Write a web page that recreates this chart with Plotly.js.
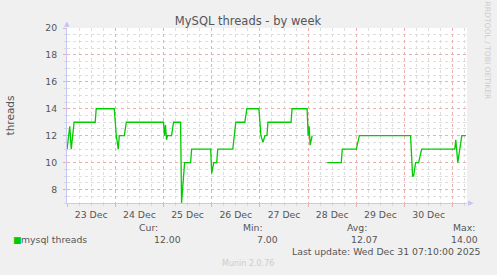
<!DOCTYPE html>
<html>
<head>
<meta charset="utf-8">
<script src="https://cdn.plot.ly/plotly-3.0.1.min.js"></script>
<style>html,body{margin:0;padding:0;background:#f0f0f0;}#chart{width:497px;height:275px;}</style>
</head>
<body>
<div id="chart"></div>
<script>
// ---- data ----
const times = [
  '2025-12-23 00:00','2025-12-23 01:20','2025-12-23 02:05','2025-12-23 03:30',
  '2025-12-23 14:00','2025-12-23 14:30','2025-12-23 23:30',
  '2025-12-24 00:30','2025-12-24 01:30','2025-12-24 02:00','2025-12-24 04:30','2025-12-24 05:30',
  '2025-12-25 00:00','2025-12-25 00:30','2025-12-25 01:00','2025-12-25 01:30','2025-12-25 02:00',
  '2025-12-25 04:00','2025-12-25 05:00','2025-12-25 08:30','2025-12-25 09:00','2025-12-25 10:30',
  '2025-12-25 13:30','2025-12-25 14:00','2025-12-25 23:30',
  '2025-12-26 00:00','2025-12-26 01:00','2025-12-26 02:30','2025-12-26 03:00','2025-12-26 10:30',
  '2025-12-26 12:00','2025-12-26 16:30','2025-12-26 17:30','2025-12-26 23:30',
  '2025-12-27 00:30','2025-12-27 01:30','2025-12-27 02:30','2025-12-27 03:30','2025-12-27 04:00',
  '2025-12-27 15:30','2025-12-27 16:00','2025-12-27 23:30',
  '2025-12-28 00:00','2025-12-28 00:30','2025-12-28 01:00','2025-12-28 02:00','2025-12-28 05:00',
  '2025-12-28 09:30','2025-12-28 16:30','2025-12-28 17:00',
  '2025-12-29 00:00','2025-12-29 01:30',
  '2025-12-30 03:00','2025-12-30 04:00','2025-12-30 04:30','2025-12-30 05:30','2025-12-30 07:00','2025-12-30 08:30',
  '2025-12-31 01:00','2025-12-31 01:30','2025-12-31 02:30','2025-12-31 04:30','2025-12-31 06:30'
];
const threads = [
  11, 12.7, 11, 13,
  13, 14, 14,
  12, 11, 12, 12, 13,
  13, 12, 12.8, 11.7, 12,
  12, 13, 13, 7, 10,
  10, 11, 11,
  9.2, 10, 10, 11, 11,
  13, 13, 14, 14,
  12, 11.5, 12, 12, 13,
  13, 14, 14,
  12, 12.7, 11.3, 12, null,
  10, 10, 11,
  11, 12,
  12, 9, 9, 10, 10, 11,
  11, 11.7, 10, 12, 12
];
const dayTickFormat = '%-d %b';
const seriesName = 'mysql threads';
const statLabels = ['Cur:', 'Min:', 'Avg:', 'Max:'];
const statValues = ['12.00', '7.00', '12.07', '14.00'];
const lastUpdate = 'Last update: Wed Dec 31 07:10:00 2025';
const chartTitle = 'MySQL threads - by week';
const yTitle = 'threads';

// ---- layout helpers (pixel -> paper) ----
const PL = 67, PR = 467, PT = 28, PB = 203;
const px = x => (x - PL) / (PR - PL);
const py = y => (PB - y) / (PB - PT);
const FONT = 'DejaVu Sans, sans-serif';
const TXT = '#555555';

const statLabelX = [160, 265, 369, 477];
const statValueX = [183, 280, 379.5, 479.5];

const annotations = [];
statLabels.forEach((s, i) => {
  annotations.push({xref:'paper', yref:'paper', x:px(statLabelX[i]), y:py(227), xanchor:'right', yanchor:'middle',
    text:s, showarrow:false, font:{family:FONT, size:9.3, color:TXT}});
  annotations.push({xref:'paper', yref:'paper', x:px(statValueX[i]), y:py(239.5), xanchor:'right', yanchor:'middle',
    text:statValues[i], showarrow:false, font:{family:FONT, size:9.3, color:TXT}});
});
annotations.push({xref:'paper', yref:'paper', x:px(10.5), y:py(239.5), xanchor:'left', yanchor:'middle',
  text:'■', showarrow:false, font:{family:FONT, size:9, color:'#00cc00'}});
annotations.push({xref:'paper', yref:'paper', x:px(18.5), y:py(239.5), xanchor:'left', yanchor:'middle',
  text:seriesName, showarrow:false, font:{family:FONT, size:9.3, color:TXT}});
annotations.push({xref:'paper', yref:'paper', x:px(482.5), y:py(251), xanchor:'right', yanchor:'middle',
  text:lastUpdate, showarrow:false, font:{family:FONT, size:9.3, color:TXT}});
annotations.push({xref:'paper', yref:'paper', x:px(248), y:py(263), xanchor:'center', yanchor:'middle',
  text:'Munin 2.0.76', showarrow:false, font:{family:FONT, size:8, color:'#cccccc'}});
annotations.push({xref:'paper', yref:'paper', x:px(487.5), y:py(51), xanchor:'center', yanchor:'middle',
  text:'RRDTOOL / TOBI OETIKER', textangle:90, showarrow:false, font:{family:FONT, size:7.6, color:'#cccccc'}});
annotations.push({xref:'paper', yref:'paper', x:px(67), y:py(24), xanchor:'center', yanchor:'middle',
  text:'▲', showarrow:false, font:{family:FONT, size:7, color:'#c4c4f8'}});
annotations.push({xref:'paper', yref:'paper', x:px(470.5), y:py(203), xanchor:'center', yanchor:'middle',
  text:'▶', showarrow:false, font:{family:FONT, size:7, color:'#c4c4f8'}});

const trace = {
  type:'scatter', mode:'lines', x:times, y:threads, name:seriesName,
  line:{color:'#00cc00', width:1.3}, connectgaps:false, hoverinfo:'skip'
};

const layout = {
  width:497, height:275,
  margin:{l:PL, r:497-PR, t:PT, b:275-PB, pad:0},
  paper_bgcolor:'#f0f0f0', plot_bgcolor:'#ffffff',
  showlegend:false,
  font:{family:FONT, size:9.3, color:TXT},
  title:{text:chartTitle, xref:'container', yref:'container', x:248/497, y:1-21/275,
    xanchor:'center', yanchor:'middle', font:{family:FONT, size:11.5, color:TXT}},
  xaxis:{
    type:'date', range:['2025-12-22 23:58','2025-12-31 07:05'],
    tick0:'2025-12-23', dtick:86400000, ticklabelmode:'period', tickformat:dayTickFormat,
    showgrid:true, gridcolor:'#eab0b0', griddash:'dot', gridwidth:1,
    ticks:'outside', ticklen:3, tickcolor:'#eab0b0', tickfont:{family:FONT, size:9.3, color:TXT},
    minor:{dtick:21600000, showgrid:true, gridcolor:'#dedede', griddash:'dot', gridwidth:1,
      ticks:'outside', ticklen:2, tickcolor:'#d8d8d8'},
    showline:true, linecolor:'#c8c8f8', linewidth:1, zeroline:false, fixedrange:true
  },
  yaxis:{
    range:[7,20], tick0:0, dtick:2,
    showgrid:true, gridcolor:'#eab0b0', griddash:'dot', gridwidth:1,
    ticks:'outside', ticklen:3, tickcolor:'#eab0b0', ticklabelstandoff:4,
    tickfont:{family:FONT, size:9.3, color:TXT},
    minor:{dtick:0.5, showgrid:true, gridcolor:'#dedede', griddash:'dot', gridwidth:1,
      ticks:'outside', ticklen:2, tickcolor:'#d8d8d8'},
    showline:true, linecolor:'#c8c8f8', linewidth:1, zeroline:false, fixedrange:true,
    title:{text:yTitle, standoff:28, font:{family:FONT, size:10.5, color:TXT}}
  },
  annotations:annotations
};

Plotly.newPlot('chart', [trace], layout, {staticPlot:true, displayModeBar:false});
</script>
</body>
</html>
